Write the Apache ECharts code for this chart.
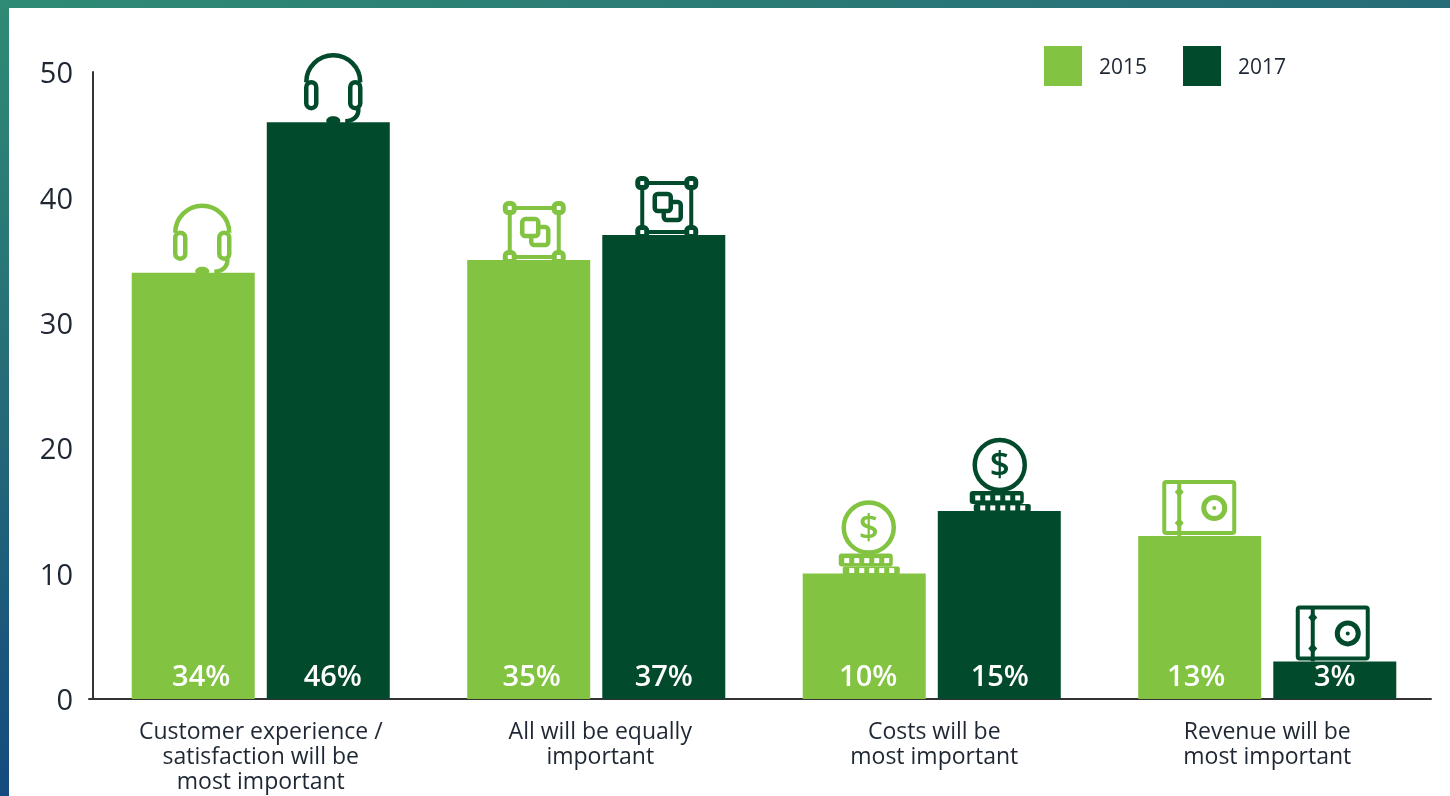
<!DOCTYPE html>
<html>
<head>
<meta charset="utf-8">
<style>html,body{margin:0;padding:0;background:#fff}#chart{width:1450px;height:796px}</style>
<script src="https://cdn.jsdelivr.net/npm/echarts@6/dist/echarts.min.js"></script>
</head>
<body>
<div id="chart"></div>
<script>
const categories = [
  'Customer experience /\nsatisfaction will be\nmost important',
  'All will be equally\nimportant',
  'Costs will be\nmost important',
  'Revenue will be\nmost important'
];
const years = ['2015', '2017'];
const values2015 = [34, 35, 10, 13];
const values2017 = [46, 37, 15, 3];
const yTicks = [0, 10, 20, 30, 40, 50];
const iconKinds = ['headset', 'frame', 'coin', 'safe'];

const LIGHT = '#82C341';
const DARK = '#014A2B';
const INK = '#1E2733';
const FONT = '"Open Sans", sans-serif';

// Icons and value labels sit slightly off the bar centre, per category and year.
const iconShift = { headset: [9, 5], frame: [5.5, 3], coin: [4.5, 0.5], safe: [-0.5, -2] };
const labelShift = [[8, 4.5], [3, 0], [4, 0.5], [-3.5, 0]];
const categoryLabelPad = [0, 8, 5, 0];
const BAR_OFFSET = 67.5;

function stroke(color, w) { return { stroke: color, lineWidth: w, fill: null }; }

function roundBox(x, y, w, h, r, style) {
  return { type: 'rect', shape: { x, y, width: w, height: h, r }, style };
}

function headset(c) {
  const line = stroke(c, 4.5);
  const pad = { stroke: c, lineWidth: 4.5, fill: '#fff' };
  return [
    { type: 'arc', shape: { cx: 0, cy: -40, r: 27, startAngle: Math.PI, endAngle: 0, clockwise: true }, style: line },
    roundBox(-27, -40, 10, 26, 5, pad),
    roundBox(17, -40, 10, 26, 5, pad),
    { type: 'bezierCurve', shape: { x1: 25, y1: -14, x2: 12, y2: -1, cpx1: 26, cpy1: -6, cpx2: 20, cpy2: -1 }, style: line },
    { type: 'ellipse', shape: { cx: 0, cy: -1.5, rx: 7, ry: 4.5 }, style: { fill: c } }
  ];
}

function frame(c) {
  const line = stroke(c, 4);
  const corners = [[-24.5, -52], [24.5, -52], [-24.5, -3], [24.5, -3]];
  const out = [
    { type: 'rect', shape: { x: -24.5, y: -52, width: 49, height: 49 }, style: line },
    roundBox(-3, -33, 17, 18, 3, { stroke: c, lineWidth: 4.5, fill: '#fff' }),
    roundBox(-12, -41, 16, 17, 3, { stroke: c, lineWidth: 4.5, fill: '#fff' })
  ];
  corners.forEach(([x, y]) => {
    out.push(roundBox(x - 4.5, y - 4.5, 9, 9, 3, { stroke: c, lineWidth: 5, fill: '#fff' }));
  });
  return out;
}

function coin(c) {
  const out = [
    roundBox(-30, -20, 54, 13, 3, { fill: c }),
    roundBox(-26, -7, 57, 8, 2, { fill: c }),
    { type: 'circle', shape: { cx: 0, cy: -46, r: 25 }, style: { stroke: c, lineWidth: 4.5, fill: '#fff' } },
    { type: 'text', x: 0, y: -45, style: { text: '$', fill: c, font: '600 35px ' + FONT, align: 'center', verticalAlign: 'middle' } }
  ];
  [0, 1, 2, 3, 4].forEach(i => {
    out.push({ type: 'rect', shape: { x: -24.5 + i * 10, y: -15.5, width: 5, height: 5 }, style: { fill: '#fff' } });
    out.push({ type: 'rect', shape: { x: -19.5 + i * 10, y: -5.5, width: 5, height: 5 }, style: { fill: '#fff' } });
  });
  return out;
}

function safe(c) {
  const line = stroke(c, 4);
  return [
    roundBox(-35, -54, 70, 51, 2, line),
    { type: 'line', shape: { x1: -20, y1: -54, x2: -20, y2: 0 }, style: line },
    { type: 'polygon', shape: { points: [[-20, -49], [-15.5, -44], [-20, -39], [-24.5, -44]] }, style: { fill: c } },
    { type: 'polygon', shape: { points: [[-20, -18], [-15.5, -13], [-20, -8], [-24.5, -13]] }, style: { fill: c } },
    { type: 'circle', shape: { cx: 15, cy: -28, r: 10.5 }, style: { stroke: c, lineWidth: 5, fill: '#fff' } },
    { type: 'circle', shape: { cx: 15, cy: -28, r: 2 }, style: { fill: c } }
  ];
}

const drawIcon = { headset, frame, coin, safe };

// Pictograms standing on each bar: the anchor comes from the value axis.
function iconSeries(values, yearIndex, color) {
  return {
    type: 'custom',
    name: 'icons' + years[yearIndex],
    silent: true,
    z: 3,
    data: values.map((v, i) => [i, v]),
    encode: { x: 0, y: 1 },
    renderItem(params, api) {
      const idx = api.value(0);
      const top = api.coord([idx, api.value(1)]);
      const kind = iconKinds[idx];
      const dx = (yearIndex === 0 ? -BAR_OFFSET : BAR_OFFSET) + iconShift[kind][yearIndex];
      return { type: 'group', x: top[0] + dx, y: top[1], children: drawIcon[kind](color) };
    }
  };
}

function barSeries(name, values, yearIndex, color) {
  return {
    type: 'bar',
    name,
    data: values.map((value, i) => ({ value, label: { offset: [labelShift[i][yearIndex], 0] } })),
    barWidth: 123,
    barGap: '9.8%',
    itemStyle: { color },
    z: 4,
    label: {
      show: true,
      position: 'insideBottom',
      distance: 7,
      formatter: '{c}%',
      color: '#fff',
      fontFamily: FONT,
      fontWeight: 600,
      fontSize: 29
    }
  };
}

const categoryStyle = { color: INK, fontFamily: FONT, fontSize: 23, lineHeight: 25 };
const categoryRich = {};
categoryLabelPad.forEach((pad, i) => {
  categoryRich['c' + i] = Object.assign({ padding: [0, 0, 0, pad] }, categoryStyle);
});

const chart = echarts.init(document.getElementById('chart'), null, { renderer: 'canvas' });
chart.setOption({
  animation: false,
  backgroundColor: {
    type: 'linear', x: 0, y: 0, x2: 0.145, y2: 1,
    colorStops: [
      { offset: 0, color: '#2F8B74' },
      { offset: 0.45, color: '#266C78' },
      { offset: 1, color: '#12467F' }
    ]
  },
  graphic: [{
    type: 'rect', z: -100, silent: true,
    shape: { x: 9, y: 8, width: 1441, height: 788 },
    style: { fill: '#fff' }
  }],
  legend: {
    data: years,
    left: 1039,
    top: 41,
    itemWidth: 38,
    itemHeight: 40,
    itemGap: 36,
    icon: 'rect',
    selectedMode: false,
    formatter: name => `{year|${name}}`,
    textStyle: {
      rich: { year: { color: INK, fontFamily: FONT, fontSize: 21, padding: [4, 0, 0, 12] } }
    }
  },
  // The second grid only carries the baseline, which overshoots the value axis on the left
  // and stops short of the last category band on the right.
  grid: [
    { left: 93, right: 15, top: 72, bottom: 97 },
    { left: 89, right: 19, top: 72, bottom: 97 }
  ],
  xAxis: [{
    type: 'category',
    data: categories,
    axisLine: { show: false },
    axisTick: { show: false },
    axisLabel: {
      interval: 0,
      margin: 21,
      lineHeight: 25,
      formatter: (value, i) => value.split('\n').map(line => `{c${i}|${line}}`).join('\n'),
      rich: categoryRich
    }
  }, {
    type: 'value',
    gridIndex: 1,
    min: 0,
    max: 1,
    axisLine: { show: true, lineStyle: { color: '#333', width: 2 } },
    axisTick: { show: false },
    axisLabel: { show: false },
    splitLine: { show: false }
  }],
  yAxis: [{
    type: 'value',
    min: 0,
    max: yTicks[yTicks.length - 1],
    interval: yTicks[1] - yTicks[0],
    splitLine: { show: false },
    axisTick: { show: false },
    axisLine: { show: true, lineStyle: { color: '#333', width: 2 } },
    axisLabel: {
      margin: 20,
      formatter: value => `{tick|${value}}`,
      rich: { tick: { color: INK, fontFamily: FONT, fontWeight: 500, fontSize: 29, padding: [6, 0, 0, 0] } }
    }
  }, {
    type: 'value',
    gridIndex: 1,
    show: false
  }],
  series: [
    barSeries(years[0], values2015, 0, LIGHT),
    barSeries(years[1], values2017, 1, DARK),
    iconSeries(values2015, 0, LIGHT),
    iconSeries(values2017, 1, DARK)
  ]
});
</script>
</body>
</html>
